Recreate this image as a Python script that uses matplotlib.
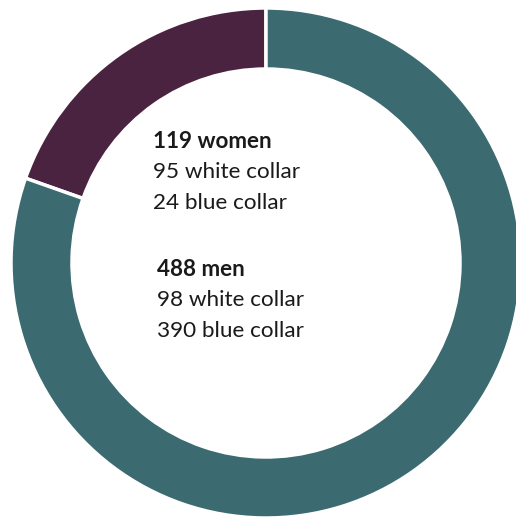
import matplotlib
matplotlib.use("Agg")
import matplotlib.pyplot as plt

# Workforce by gender, with collar breakdown
groups = ["women", "men"]
totals = [119, 488]
white_collar = [95, 98]
blue_collar = [24, 390]
colors = ["#4a2340", "#3b6a70"]

W, H = 516, 517
fig = plt.figure(figsize=(W / 100, H / 100), dpi=100)
ax = fig.add_axes([0, 0, 1, 1])
ax.set_xlim(0, W)
ax.set_ylim(0, H)
ax.set_aspect("equal")
ax.axis("off")

cx, cy = 266, H - 263
ax.pie(totals, colors=colors, startangle=90, counterclock=True,
       center=(cx, cy), radius=255,
       wedgeprops=dict(width=61, edgecolor="white", linewidth=2.5))
ax.set_xlim(0, W)
ax.set_ylim(0, H)

font = "Lato"
fs = 16.2
label_pos = [(153, 141), (157, 269)]
for (x, y), g, t, w, b in zip(label_pos, groups, totals, white_collar, blue_collar):
    ax.text(x, H - y, f"{t} {g}", fontsize=fs, fontweight="bold",
            family=font, color="#1a1a1a", va="center", ha="left")
    ax.text(x, H - y - 31, f"{w} white collar", fontsize=fs,
            family=font, color="#1a1a1a", va="center", ha="left")
    ax.text(x, H - y - 62, f"{b} blue collar", fontsize=fs,
            family=font, color="#1a1a1a", va="center", ha="left")

fig.savefig("out.png", dpi=100)
